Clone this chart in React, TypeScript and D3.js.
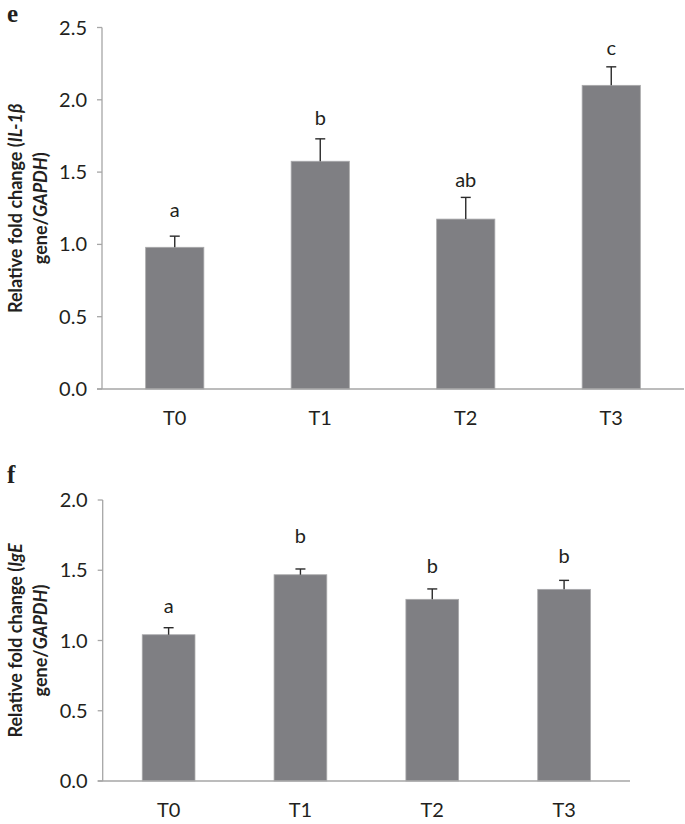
import React from "react";
import * as d3 from "d3";

const categories = ["T0", "T1", "T2", "T3"];

// Panel e: IL-1β
const il1bMeans = [0.98, 1.575, 1.175, 2.1];
const il1bErrors = [0.077, 0.155, 0.15, 0.128];
const il1bLetters = ["a", "b", "ab", "c"];
const il1bLetterAt = [1.187, 1.826, 1.395, 2.31];
const il1bTicks = [0, 0.5, 1.0, 1.5, 2.0, 2.5];

// Panel f: IgE
const igeMeans = [1.041, 1.468, 1.293, 1.364];
const igeErrors = [0.05, 0.041, 0.074, 0.064];
const igeLetters = ["a", "b", "b", "b"];
const igeLetterAt = [1.198, 1.692, 1.478, 1.549];
const igeTicks = [0, 0.5, 1.0, 1.5, 2.0];

const FONT = "Lato, 'Open Sans', sans-serif";
const BAR_FILL = "#7f7f83";
const BAR_STROKE = "#a9a9ab";
const AXIS = "#a6a6a6";
const TEXT = "#231f20";

type PanelProps = {
  tag: string;
  tagY: number;
  means: number[];
  errors: number[];
  letters: string[];
  letterAt: number[];
  ticks: number[];
  yTop: number;
  yBottom: number;
  xLeft: number;
  xRight: number;
  gene: string;
};

function Panel(p: PanelProps) {
  const yMax = p.ticks[p.ticks.length - 1];
  const y = d3.scaleLinear().domain([0, yMax]).range([p.yBottom, p.yTop]);
  const x = d3
    .scaleBand<string>()
    .domain(categories)
    .range([p.xLeft, p.xRight])
    .paddingInner(0.6)
    .paddingOuter(0.3);
  const fmt = d3.format(".1f");
  const bw = x.bandwidth();
  const midY = (p.yTop + p.yBottom) / 2;
  return (
    <g>
      <text x={7} y={p.tagY} fontFamily="'Liberation Serif', 'DejaVu Serif', serif" fontWeight="bold" fontSize={25} fill={TEXT}>
        {p.tag}
      </text>
      {/* y axis title */}
      <g transform={`translate(22, ${midY}) rotate(-90)`}>
        <text textAnchor="middle" fontFamily={FONT} fontWeight="bold" fontSize={18} fill={TEXT}>
          <tspan x={0} y={0}>
            Relative fold change (<tspan fontStyle="italic">{p.gene}</tspan>
          </tspan>
          <tspan x={0} y={24.5}>
            gene/<tspan fontStyle="italic">GAPDH</tspan>)
          </tspan>
        </text>
      </g>
      {/* bars */}
      {categories.map((c, i) => {
        const x0 = x(c) as number;
        const top = y(p.means[i]);
        return (
          <rect
            key={c}
            x={x0}
            y={top}
            width={bw}
            height={p.yBottom - top}
            fill={BAR_FILL}
            stroke={BAR_STROKE}
            strokeWidth={0.8}
          />
        );
      })}
      {/* y axis */}
      <line x1={p.xLeft} x2={p.xLeft} y1={p.yTop} y2={p.yBottom} stroke={AXIS} strokeWidth={1.3} />
      {p.ticks.map((t) => (
        <g key={t}>
          <line x1={p.xLeft - 5} x2={p.xLeft} y1={y(t)} y2={y(t)} stroke={AXIS} strokeWidth={1.3} />
          <text
            x={p.xLeft - 15}
            y={y(t)}
            dy="0.35em"
            textAnchor="end"
            fontFamily={FONT}
            fontSize={20}
            fill={TEXT}
          >
            {fmt(t)}
          </text>
        </g>
      ))}
      {/* x axis */}
      <line x1={p.xLeft - 5} x2={p.xRight} y1={p.yBottom} y2={p.yBottom} stroke={AXIS} strokeWidth={1.6} />
      {categories.map((c) => (
        <text
          key={c}
          x={(x(c) as number) + bw / 2}
          y={p.yBottom + 36}
          textAnchor="middle"
          fontFamily={FONT}
          fontSize={20}
          fill={TEXT}
        >
          {c}
        </text>
      ))}
      {/* error bars */}
      {categories.map((c, i) => {
        const cx = (x(c) as number) + bw / 2;
        const top = y(p.means[i] + p.errors[i]);
        return (
          <g key={c} stroke="#2b2b2b" strokeWidth={1.4}>
            <line x1={cx} x2={cx} y1={y(p.means[i])} y2={top} />
            <line x1={cx - 5} x2={cx + 5} y1={top} y2={top} />
          </g>
        );
      })}
      {/* significance letters */}
      {categories.map((c, i) => (
        <text
          key={c}
          x={(x(c) as number) + bw / 2}
          y={y(p.letterAt[i])}
          textAnchor="middle"
          fontFamily={FONT}
          fontSize={20}
          fill={TEXT}
        >
          {p.letters[i]}
        </text>
      ))}
    </g>
  );
}

export default function App() {
  return (
    <svg
      width={685}
      height={824}
      viewBox="0 0 685 824"
      style={{ position: "absolute", left: 0, top: 0, background: "#fff" }}
    >
      <rect x={0} y={0} width={685} height={824} fill="#fff" />
      <Panel
        tag="e"
        tagY={22}
        means={il1bMeans}
        errors={il1bErrors}
        letters={il1bLetters}
        letterAt={il1bLetterAt}
        ticks={il1bTicks}
        yTop={27.5}
        yBottom={389}
        xLeft={102}
        xRight={684}
        gene="IL-1β"
      />
      <Panel
        tag="f"
        tagY={483}
        means={igeMeans}
        errors={igeErrors}
        letters={igeLetters}
        letterAt={igeLetterAt}
        ticks={igeTicks}
        yTop={500}
        yBottom={781}
        xLeft={102.7}
        xRight={630}
        gene="IgE"
      />
    </svg>
  );
}
